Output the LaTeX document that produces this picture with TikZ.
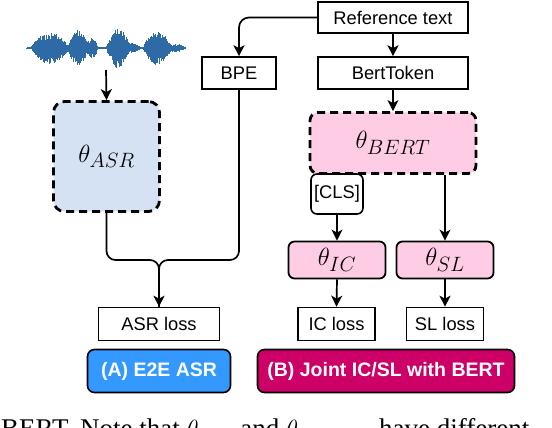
\documentclass[tikz,border=0pt]{standalone}
\usepackage{fontspec}
\setmainfont{Liberation Sans}
\newfontfamily\capfont{Liberation Serif}
\usetikzlibrary{arrows.meta}
\definecolor{wavec}{HTML}{2E6BA6}
\definecolor{asrfill}{HTML}{D5E2F4}
\definecolor{pinkfill}{HTML}{FFCCE5}
\definecolor{labA}{HTML}{3399FF}
\definecolor{labB}{HTML}{CC0066}
\tikzset{
  plainbox/.style={draw, line width=1.6pt, fill=white, inner sep=0pt, font=\fontsize{18.3}{21}\selectfont},
  dashbox/.style={draw, line width=2.8pt, dash pattern=on 8pt off 5pt, rounded corners=11pt, inner sep=0pt},
  pinkbox/.style={draw, line width=1.8pt, fill=pinkfill, rounded corners=6pt, inner sep=0pt},
  labbox/.style={draw, line width=1.6pt, rounded corners=7pt, inner sep=0pt, text=white, font=\fontsize{19.5}{22}\selectfont\bfseries},
  arr/.style={line width=1.7pt, -{Stealth[length=11pt,width=11pt,inset=3pt]}},
  conn/.style={line width=1.7pt},
  theta/.style={font=\fontsize{24.88}{28}\selectfont}
}
\begin{document}
\begin{tikzpicture}[x=1pt,y=-1pt]
\useasboundingbox (0,0) rectangle (552,428);
\clip (0,0) rectangle (552,428);
% waveform
\pgfmathsetseed{7}
\draw[wavec, line width=0.6pt] (26,48) -- (186,48);
\foreach \x in {27,27.4,...,186}{
  \pgfmathsetmacro{\env}{1.2
    + 15*max(0,1-((\x-50)/19)^2)
    + 17*max(0,1-((\x-78)/10)^2)
    + 9*max(0,1-((\x-92)/6)^2)
    + 19*max(0,1-((\x-118)/12)^2)
    + 4*max(0,1-((\x-133)/7)^2)
    + 16*max(0,1-((\x-157)/14)^2)
    + 3*max(0,1-((\x-176)/9)^2)}
  \pgfmathsetmacro{\up}{\env*(0.45+0.55*rnd)}
  \pgfmathsetmacro{\dn}{\env*(0.45+0.55*rnd)}
  \draw[wavec, line width=0.6pt] (\x,48-\up) -- (\x,48+\dn);
}
\coordinate (wave) at (106,70);
% nodes
\node[plainbox, minimum width=150pt, minimum height=31pt] (ref) at (393,17.5) {Reference text};
\node[plainbox, minimum width=74pt, minimum height=32pt] (bpe) at (239,73) {BPE};
\node[plainbox, minimum width=150pt, minimum height=32pt] (tok) at (393,73) {BertToken};
\node[dashbox, fill=asrfill, minimum width=106pt, minimum height=110pt, theta] (asr) at (106.5,156.5) {$\theta_{ASR}$};
\node[dashbox, fill=pinkfill, rounded corners=8pt, minimum width=166pt, minimum height=61pt, theta] (bert) at (393,143) {$\theta_{BERT}$};
\node[plainbox, rounded corners=6pt, minimum width=52pt, minimum height=40pt] (cls) at (337,194) {[CLS]};
\node[pinkbox, minimum width=97pt, minimum height=37pt, theta] (ic) at (337,260) {$\theta_{IC}$};
\node[pinkbox, minimum width=97pt, minimum height=37pt, theta] (sl) at (445,260) {$\theta_{SL}$};
\node[plainbox, minimum width=77pt, minimum height=33pt] (icl) at (336.5,324) {IC loss};
\node[plainbox, minimum width=77pt, minimum height=33pt] (sll) at (445,324) {SL loss};
\node[plainbox, minimum width=121pt, minimum height=33pt] (asrl) at (159,324) {ASR loss};
\node[labbox, fill=labA, minimum width=143pt, minimum height=43pt] (la) at (159,371) {(A) E2E ASR};
\node[labbox, fill=labB, minimum width=257pt, minimum height=43pt] (lb) at (386,371) {(B) Joint IC/SL with BERT};
\coordinate (merge) at (159,260);
% connectors
\draw[arr] (wave) -- (asr.north);
\draw[arr, rounded corners=10pt] (ref.west) -| (bpe.north);
\draw[arr] (ref.south) -- (tok.north);
\draw[arr] (tok.south) -- (bert.north);
\draw[conn, rounded corners=9pt] (asr.south) |- (merge) -- (asrl.north);
\draw[conn, rounded corners=9pt] (bpe.south) |- (merge) -- (asrl.north);
\draw[arr] (merge) ++(0,10) -- (asrl.north);
\draw[arr] (cls.south) -- (ic.north);
\draw[arr] (bert.south -| sl.north) -- (sl.north);
\draw[arr] (ic.south) -- (icl.north);
\draw[arr] (sl.south) -- (sll.north);
% caption (cut off at the bottom edge, as in the reference)
\node[anchor=base west, inner sep=0pt, font=\capfont\fontsize{27}{30}\selectfont] (cap) at (1,437.5) {BERT. Note that $\theta_{ASR}$\hspace{-2pt} and $\theta_{BERT}$\hspace{22pt} have different};
\end{tikzpicture}
\end{document}
